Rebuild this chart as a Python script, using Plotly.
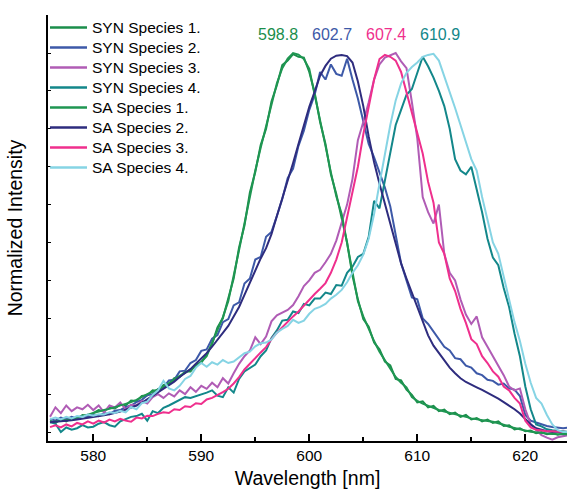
import plotly.graph_objects as go

# ---------------- data ----------------
wavelength = [
    576.0, 576.5, 577.0, 577.5, 578.0, 578.5, 579.0, 579.5, 580.0, 580.5,
    581.0, 581.5, 582.0, 582.5, 583.0, 583.5, 584.0, 584.5, 585.0, 585.5,
    586.0, 586.5, 587.0, 587.5, 588.0, 588.5, 589.0, 589.5, 590.0, 590.5,
    591.0, 591.5, 592.0, 592.5, 593.0, 593.5, 594.0, 594.5, 595.0, 595.5,
    596.0, 596.5, 597.0, 597.5, 598.0, 598.5, 599.0, 599.5, 600.0, 600.5,
    601.0, 601.5, 602.0, 602.5, 603.0, 603.5, 604.0, 604.5, 605.0, 605.5,
    606.0, 606.5, 607.0, 607.5, 608.0, 608.5, 609.0, 609.5, 610.0, 610.5,
    611.0, 611.5, 612.0, 612.5, 613.0, 613.5, 614.0, 614.5, 615.0, 615.5,
    616.0, 616.5, 617.0, 617.5, 618.0, 618.5, 619.0, 619.5, 620.0, 620.5,
    621.0, 621.5, 622.0, 622.5, 623.0, 623.5, 624.0,
]

syn_species_1 = [
    0.030, 0.024, 0.033, 0.028, 0.037, 0.035, 0.045, 0.043, 0.050, 0.058,
    0.055, 0.064, 0.062, 0.072, 0.070, 0.083, 0.082, 0.095, 0.097, 0.110,
    0.108, 0.124, 0.126, 0.142, 0.145, 0.160, 0.160, 0.178, 0.183, 0.205,
    0.232, 0.276, 0.300, 0.350, 0.405, 0.487, 0.545, 0.632, 0.686, 0.757,
    0.800, 0.872, 0.915, 0.968, 0.980, 0.997, 0.990, 0.988, 0.950, 0.895,
    0.818, 0.760, 0.680, 0.628, 0.568, 0.500, 0.412, 0.350, 0.298, 0.278,
    0.236, 0.218, 0.186, 0.176, 0.140, 0.136, 0.112, 0.098, 0.078, 0.081,
    0.065, 0.069, 0.055, 0.059, 0.047, 0.051, 0.040, 0.045, 0.033, 0.037,
    0.028, 0.033, 0.024, 0.028, 0.016, 0.018, 0.007, 0.010, 0.002, 0.004,
    -0.003, 0.000, -0.006, -0.003, -0.007, -0.004, -0.007,
]

syn_species_2 = [
    0.035, 0.030, 0.038, 0.033, 0.040, 0.036, 0.042, 0.039, 0.045, 0.042,
    0.050, 0.047, 0.056, 0.058, 0.066, 0.070, 0.079, 0.085, 0.097, 0.100,
    0.113, 0.118, 0.136, 0.138, 0.160, 0.162, 0.182, 0.190, 0.214, 0.218,
    0.246, 0.256, 0.290, 0.298, 0.334, 0.342, 0.392, 0.405, 0.455, 0.462,
    0.515, 0.528, 0.570, 0.615, 0.670, 0.695, 0.755, 0.795, 0.850, 0.890,
    0.950, 0.930, 0.970, 0.945, 0.940, 0.985, 0.930, 0.880, 0.820, 0.760,
    0.725, 0.685, 0.645, 0.595, 0.520, 0.445, 0.400, 0.355, 0.350, 0.300,
    0.285, 0.265, 0.245, 0.225, 0.215, 0.195, 0.192, 0.175, 0.170, 0.155,
    0.150, 0.138, 0.135, 0.125, 0.128, 0.115, 0.112, 0.095, 0.045, 0.030,
    0.025, 0.020, 0.016, 0.013, 0.012, 0.010, 0.012,
]

syn_species_3 = [
    0.040, 0.065, 0.050, 0.070, 0.055, 0.065, 0.060, 0.072, 0.058, 0.070,
    0.052, 0.070, 0.065, 0.078, 0.060, 0.072, 0.070, 0.082, 0.075, 0.092,
    0.100, 0.090, 0.102, 0.094, 0.110, 0.100, 0.118, 0.106, 0.122, 0.114,
    0.130, 0.118, 0.142, 0.128, 0.155, 0.180, 0.200, 0.215, 0.250, 0.232,
    0.252, 0.292, 0.308, 0.316, 0.322, 0.335, 0.358, 0.385, 0.400, 0.420,
    0.428, 0.448, 0.470, 0.505, 0.550, 0.600, 0.668, 0.770, 0.818, 0.870,
    0.930, 0.970, 0.988, 0.995, 1.000, 0.978, 0.960, 0.870, 0.775, 0.620,
    0.580, 0.550, 0.600, 0.470, 0.420, 0.400, 0.350, 0.310, 0.285, 0.305,
    0.250, 0.225, 0.200, 0.175, 0.150, 0.120, 0.110, 0.115, 0.060, 0.020,
    0.005, -0.008, -0.015, -0.020, -0.014, -0.010, -0.008,
]

syn_species_4 = [
    0.026, 0.022, 0.000, 0.012, 0.006, 0.010, 0.018, 0.012, 0.014, 0.022,
    0.026, 0.018, 0.014, 0.028, 0.034, 0.040, 0.042, 0.048, 0.030, 0.055,
    0.050, 0.064, 0.070, 0.078, 0.084, 0.092, 0.090, 0.094, 0.100, 0.104,
    0.110, 0.096, 0.092, 0.118, 0.104, 0.140, 0.160, 0.170, 0.178, 0.200,
    0.215, 0.248, 0.268, 0.294, 0.296, 0.318, 0.314, 0.338, 0.334, 0.352,
    0.352, 0.368, 0.364, 0.388, 0.386, 0.420, 0.436, 0.462, 0.470, 0.515,
    0.610, 0.590, 0.665, 0.735, 0.810, 0.850, 0.890, 0.905, 0.950, 0.990,
    0.965, 0.935, 0.900, 0.860, 0.800, 0.720, 0.690, 0.680, 0.700, 0.640,
    0.580, 0.510, 0.460, 0.440, 0.380, 0.330, 0.260, 0.200, 0.120, 0.060,
    0.020, 0.015, 0.007, 0.005, 0.004, 0.002, 0.000,
]

sa_species_1 = [
    0.026, 0.028, 0.029, 0.031, 0.034, 0.038, 0.042, 0.047, 0.052, 0.055,
    0.058, 0.061, 0.065, 0.069, 0.074, 0.079, 0.085, 0.093, 0.100, 0.106,
    0.112, 0.120, 0.129, 0.139, 0.148, 0.156, 0.164, 0.174, 0.185, 0.200,
    0.235, 0.270, 0.303, 0.345, 0.410, 0.480, 0.550, 0.625, 0.690, 0.750,
    0.805, 0.865, 0.920, 0.960, 0.985, 1.000, 0.996, 0.984, 0.958, 0.890,
    0.825, 0.755, 0.685, 0.622, 0.575, 0.495, 0.420, 0.345, 0.305, 0.272,
    0.240, 0.212, 0.190, 0.170, 0.145, 0.130, 0.118, 0.092, 0.082, 0.075,
    0.069, 0.064, 0.058, 0.054, 0.050, 0.046, 0.043, 0.040, 0.036, 0.033,
    0.031, 0.029, 0.027, 0.024, 0.019, 0.014, 0.010, 0.007, 0.004, 0.001,
    -0.001, -0.003, -0.004, -0.005, -0.005, -0.006, -0.006,
]

sa_species_2 = [
    0.026, 0.027, 0.028, 0.030, 0.031, 0.033, 0.035, 0.037, 0.039, 0.041,
    0.044, 0.047, 0.050, 0.054, 0.059, 0.064, 0.070, 0.077, 0.086, 0.095,
    0.104, 0.113, 0.122, 0.133, 0.145, 0.155, 0.166, 0.180, 0.194, 0.208,
    0.225, 0.243, 0.260, 0.280, 0.305, 0.330, 0.362, 0.395, 0.430, 0.458,
    0.485, 0.522, 0.570, 0.615, 0.665, 0.710, 0.760, 0.810, 0.858, 0.898,
    0.940, 0.966, 0.985, 0.993, 0.995, 0.992, 0.975, 0.925, 0.860, 0.780,
    0.712, 0.655, 0.602, 0.548, 0.495, 0.445, 0.405, 0.368, 0.328, 0.292,
    0.255, 0.228, 0.208, 0.188, 0.170, 0.155, 0.142, 0.132, 0.124, 0.118,
    0.111, 0.104, 0.096, 0.088, 0.079, 0.070, 0.060, 0.049, 0.034, 0.020,
    0.010, 0.005, 0.002, 0.001, 0.000, 0.000, 0.000,
]

sa_species_3 = [
    0.013, 0.018, 0.012, 0.020, 0.015, 0.024, 0.020, 0.028, 0.022, 0.030,
    0.025, 0.033, 0.028, 0.035, 0.030, 0.027, 0.038, 0.036, 0.043, 0.042,
    0.048, 0.052, 0.050, 0.060, 0.058, 0.068, 0.066, 0.076, 0.074, 0.086,
    0.090, 0.097, 0.105, 0.114, 0.128, 0.145, 0.165, 0.180, 0.196, 0.210,
    0.224, 0.245, 0.262, 0.277, 0.290, 0.305, 0.318, 0.334, 0.348, 0.364,
    0.378, 0.393, 0.420, 0.455, 0.500, 0.565, 0.630, 0.700, 0.785, 0.860,
    0.930, 0.984, 0.995, 0.990, 0.980, 0.950, 0.895, 0.840, 0.790, 0.735,
    0.660, 0.605, 0.500, 0.470, 0.405, 0.372, 0.325, 0.288, 0.245, 0.232,
    0.200, 0.182, 0.160, 0.146, 0.120, 0.110, 0.090, 0.075, 0.030, 0.012,
    0.006, 0.004, 0.002, 0.002, 0.001, 0.000, 0.000,
]

sa_species_4 = [
    0.034, 0.038, 0.033, 0.040, 0.036, 0.042, 0.040, 0.046, 0.043, 0.047,
    0.046, 0.052, 0.050, 0.056, 0.052, 0.066, 0.060, 0.076, 0.080, 0.098,
    0.110, 0.135, 0.115, 0.110, 0.122, 0.140, 0.148, 0.170, 0.182, 0.172,
    0.184, 0.178, 0.190, 0.182, 0.186, 0.198, 0.208, 0.212, 0.226, 0.234,
    0.236, 0.244, 0.262, 0.272, 0.280, 0.296, 0.288, 0.294, 0.312, 0.325,
    0.330, 0.338, 0.352, 0.362, 0.375, 0.395, 0.420, 0.440, 0.468, 0.510,
    0.575, 0.655, 0.735, 0.810, 0.875, 0.920, 0.948, 0.963, 0.975, 0.990,
    0.995, 0.998, 0.980, 0.940, 0.895, 0.855, 0.810, 0.765, 0.720, 0.690,
    0.620, 0.560, 0.500, 0.470, 0.410, 0.350, 0.290, 0.240, 0.180, 0.130,
    0.090, 0.075, 0.045, 0.020, 0.005, 0.000, 0.000,
]

series_names = [
    "SYN Species 1.", "SYN Species 2.", "SYN Species 3.", "SYN Species 4.",
    "SA Species 1.", "SA Species 2.", "SA Species 3.", "SA Species 4.",
]
series_values = [
    syn_species_1, syn_species_2, syn_species_3, syn_species_4,
    sa_species_1, sa_species_2, sa_species_3, sa_species_4,
]
peak_labels = ["598.8", "602.7", "607.4", "610.9"]

# ---------------- styles / layout ----------------
series_colors = [
    "#1b8e4b", "#3d59a8", "#b05cb5", "#13878a",
    "#1f9652", "#2e2c7e", "#ef2f8d", "#86d4e4",
]
peak_colors = ["#1b8e4b", "#3d59a8", "#ef2f8d", "#13878a"]
peak_x_paper = [0.4424, 0.5472, 0.6507, 0.7553]

FONT = "Liberation Sans, Arial, sans-serif"
W, H = 570, 495
ML, MR, MT, MB = 48, 3, 15, 54
PW, PH = W - ML - MR, H - MT - MB


def px_to_paper_x(px):
    return (px - ML) / PW


def px_to_paper_y(py):
    return (H - MB - py) / PH


fig = go.Figure()
for name, vals, col in zip(series_names, series_values, series_colors):
    fig.add_trace(go.Scatter(
        x=wavelength, y=vals, mode="lines", name=name,
        line=dict(color=col, width=2), showlegend=False,
    ))

yr = [-0.0237, 1.1003]

annotations = []
shapes = []
for txt, col, xp in zip(peak_labels, peak_colors, peak_x_paper):
    annotations.append(dict(
        text=txt, x=xp, y=px_to_paper_y(34.5), xref="paper", yref="paper",
        showarrow=False, xanchor="center", yanchor="middle",
        font=dict(family=FONT, size=16, color=col),
    ))

# hand-drawn legend (entry spacing of the original is 20 px)
for i, (name, col) in enumerate(zip(series_names, series_colors)):
    py = 27.5 + 20 * i
    shapes.append(dict(
        type="line", xref="paper", yref="paper",
        x0=px_to_paper_x(50), x1=px_to_paper_x(87),
        y0=px_to_paper_y(py), y1=px_to_paper_y(py),
        line=dict(color=col, width=2.5),
    ))
    annotations.append(dict(
        text=name, x=px_to_paper_x(90), y=px_to_paper_y(py),
        xref="paper", yref="paper", showarrow=False,
        xanchor="left", yanchor="middle",
        font=dict(family=FONT, size=15.5, color="black"),
    ))

fig.update_layout(
    width=W, height=H,
    margin=dict(l=ML, r=MR, t=MT, b=MB),
    paper_bgcolor="white", plot_bgcolor="white",
    font=dict(family=FONT, color="black"),
    showlegend=False,
    annotations=annotations,
    shapes=shapes,
    xaxis=dict(
        range=[575.81, 623.86], showline=True, linecolor="black", linewidth=1.6,
        ticks="inside", ticklen=7, tickwidth=1.5, tickcolor="black",
        tick0=580, dtick=10,
        minor=dict(ticks="inside", dtick=5, ticklen=4, tickwidth=1.5, tickcolor="black"),
        showgrid=False, zeroline=False,
        tickfont=dict(family=FONT, size=15.5, color="black"),
        title=dict(text="Wavelength [nm]", font=dict(family=FONT, size=19.5, color="black"), standoff=8),
    ),
    yaxis=dict(
        range=yr, showline=True, linecolor="black", linewidth=1.6,
        ticks="inside", ticklen=3, tickwidth=1.2, tickcolor="black",
        tick0=0, dtick=0.1, showticklabels=False,
        showgrid=False, zeroline=False,
        title=dict(text="Normalized Intensity", font=dict(family=FONT, size=19.5, color="black"), standoff=18),
    ),
    yaxis2=dict(
        range=yr, overlaying="y", side="right", showline=False,
        ticks="inside", ticklen=5, tickwidth=1.2, tickcolor="black",
        tick0=0, dtick=0.2, showticklabels=False,
        minor=dict(ticks="inside", dtick=0.1, ticklen=2, tickwidth=1.2, tickcolor="black"),
        showgrid=False, zeroline=False,
    ),
)

fig.write_html("out.html")
